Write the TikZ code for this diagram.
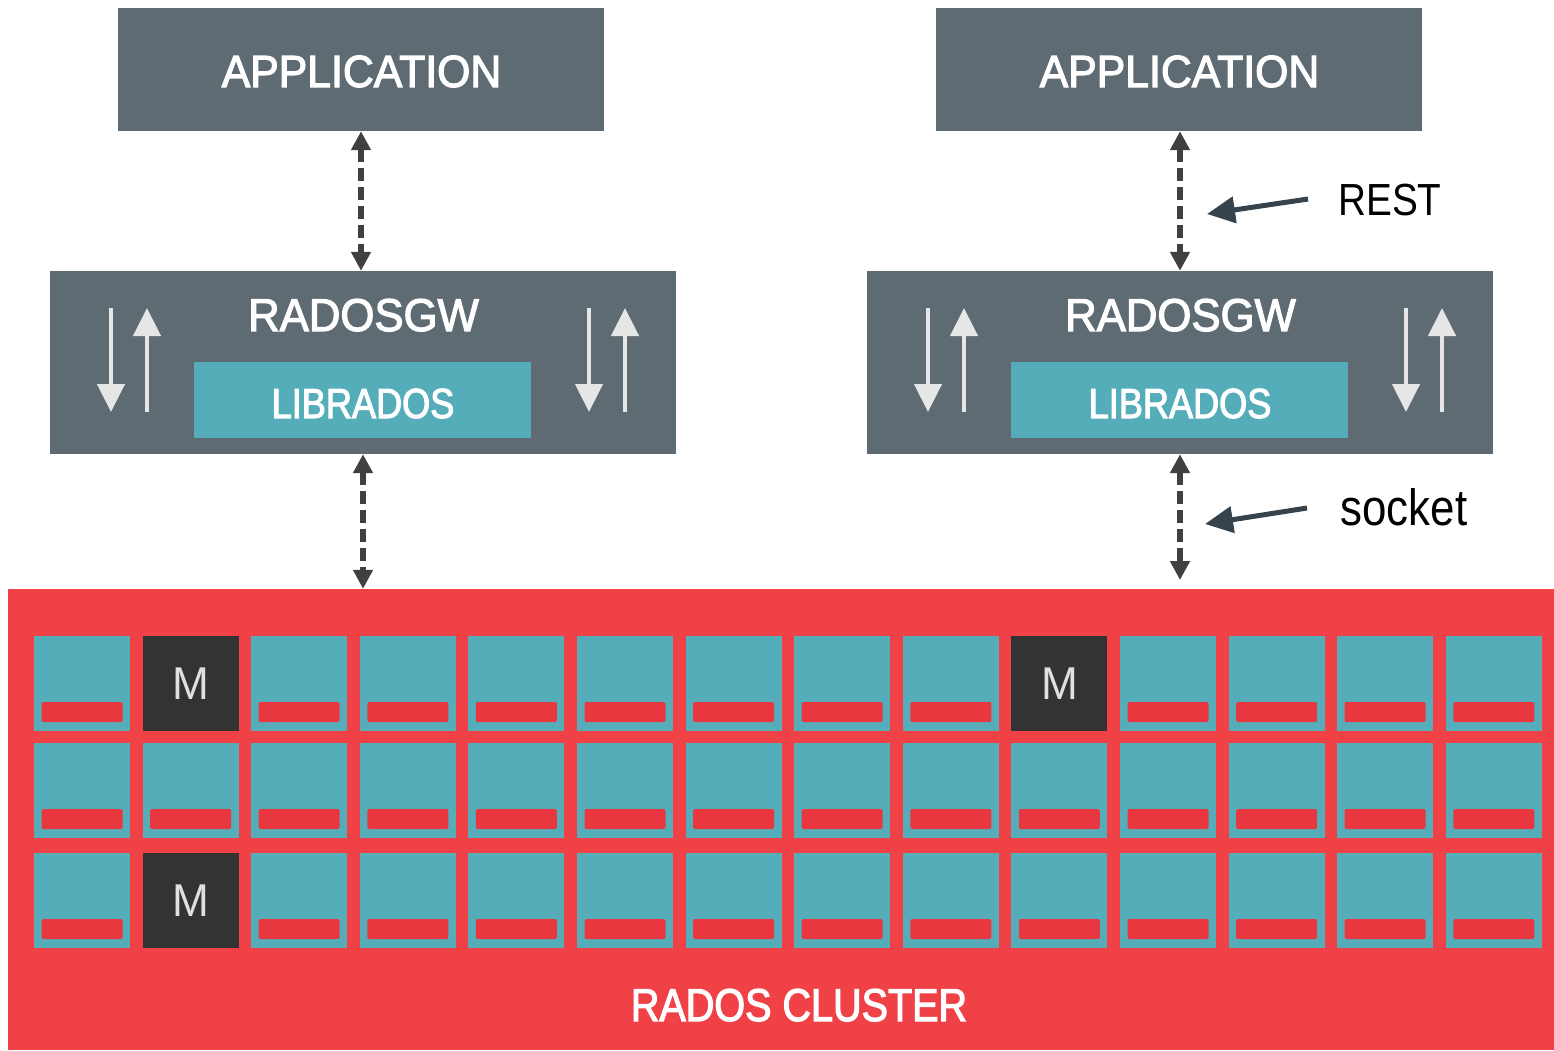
\documentclass[tikz,border=0pt]{standalone}
\usepackage{fontspec}
\setmainfont{Liberation Sans}
\newfontfamily\fntbox[FakeStretch=0.95,FakeBold=2.5]{Liberation Sans}
\newfontfamily\fntboxn[FakeStretch=0.86,FakeBold=2.5]{Liberation Sans}
\newfontfamily\fntcell[FakeStretch=0.96]{Liberation Sans}
\newfontfamily\fntlab[FakeStretch=0.86]{Liberation Sans}
\usetikzlibrary{arrows.meta}
\definecolor{slate}{HTML}{5F6B73}
\definecolor{tealc}{HTML}{55ADB9}
\definecolor{cred}{HTML}{EF4146}
\definecolor{barred}{HTML}{E8373F}
\definecolor{mdark}{HTML}{333333}
\definecolor{conn}{HTML}{404040}
\definecolor{ptr}{HTML}{37434C}
\definecolor{lightc}{HTML}{E6E6E6}
\definecolor{mtext}{HTML}{E0E0E0}
\begin{document}
\begin{tikzpicture}[x=1pt,y=-1pt,
  gbox/.style={fill=slate, draw=none, inner sep=0pt, rectangle},
  libbox/.style={fill=tealc, draw=none, inner sep=0pt, rectangle},
  boxtext/.style={text=white, inner sep=0pt, anchor=base},
  connline/.style={draw=conn, line width=5.5pt, dash pattern=on 13pt off 6pt,
    {Triangle[width=19pt,length=19pt]}-{Triangle[width=19pt,length=19pt]}},
  ptrarrow/.style={draw=ptr, line width=5pt, -{Triangle[width=26pt,length=28pt]}},
  lightarrow/.style={draw=lightc, line width=4.5pt, -{Triangle[width=27pt,length=28pt]}},
  cellbox/.style={fill=tealc, draw=none, inner sep=0pt, minimum width=96pt, minimum height=95pt},
  mcell/.style={fill=mdark, draw=none, inner sep=0pt, minimum width=96pt, minimum height=95pt,
    text=mtext, font=\fntcell\fontsize{46}{46}\selectfont},
  barbox/.style={fill=barred, draw=none, rounded corners=1.5pt}
]
\useasboundingbox (0,0) rectangle (1554,1050);

% application boxes
\node[gbox, minimum width=486pt, minimum height=123pt] (app1) at (361,69.5) {};
\node[gbox, minimum width=486pt, minimum height=123pt] (app2) at (1179,69.5) {};
\node[boxtext, font=\fntbox\fontsize{45}{45}\selectfont] (app1t) at (361.5,87) {APPLICATION};
\node[boxtext, font=\fntbox\fontsize{45}{45}\selectfont] (app2t) at (1179.5,87) {APPLICATION};

% radosgw boxes
\node[gbox, minimum width=626pt, minimum height=183pt] (gw1) at (363,362.5) {};
\node[gbox, minimum width=626pt, minimum height=183pt] (gw2) at (1180,362.5) {};
\node[boxtext, font=\fntbox\fontsize{46}{46}\selectfont] (gw1t) at (363.5,331) {RADOSGW};
\node[boxtext, font=\fntbox\fontsize{46}{46}\selectfont] (gw2t) at (1180.5,331) {RADOSGW};

% librados boxes
\node[libbox, minimum width=337pt, minimum height=76pt] (lib1) at (362.5,400) {};
\node[libbox, minimum width=337pt, minimum height=76pt] (lib2) at (1179.5,400) {};
\node[boxtext, font=\fntboxn\fontsize{42}{42}\selectfont] (lib1t) at (363,418) {LIBRADOS};
\node[boxtext, font=\fntboxn\fontsize{42}{42}\selectfont] (lib2t) at (1180,418) {LIBRADOS};

% light arrows inside radosgw boxes
\foreach \ox/\nm in {0/a,817/b}{
  \coordinate (d1top\nm) at (111+\ox,308);
  \coordinate (d1bot\nm) at (111+\ox,412);
  \coordinate (u1top\nm) at (147+\ox,308);
  \coordinate (u1bot\nm) at (147+\ox,412);
  \coordinate (d2top\nm) at (589+\ox,308);
  \coordinate (d2bot\nm) at (589+\ox,412);
  \coordinate (u2top\nm) at (625+\ox,308);
  \coordinate (u2bot\nm) at (625+\ox,412);
  \draw[lightarrow] (d1top\nm) -- (d1bot\nm);
  \draw[lightarrow] (u1bot\nm) -- (u1top\nm);
  \draw[lightarrow] (d2top\nm) -- (d2bot\nm);
  \draw[lightarrow] (u2bot\nm) -- (u2top\nm);
}

% cluster
\node[fill=cred, draw=none, inner sep=0pt, minimum width=1546pt, minimum height=461pt] (cluster) at (781,819.5) {};
\node[boxtext, font=\fntboxn\fontsize{46}{46}\selectfont] (clustert) at (799,1021) {RADOS CLUSTER};

\foreach \r/\yy in {0/636,1/743,2/853}{
  \foreach \c in {0,...,13}{
    \pgfmathsetmacro\xx{34+108.6*\c}
    \pgfmathtruncatemacro\ism{((\c==1) && (\r!=1)) || ((\c==9) && (\r==0))}
    \ifnum\ism=1
      \node[mcell] (cell-\c-\r) at (\xx+48,\yy+47.5) {\raisebox{-4pt}{M}};
    \else
      \node[cellbox] (cell-\c-\r) at (\xx+48,\yy+47.5) {};
      \fill[barred, rounded corners=1.5pt] (\xx+7.5,\yy+66) rectangle (\xx+88.5,\yy+86);
    \fi
  }
}

% dashed connectors
\coordinate (sockend) at (1180,580);
\draw[connline] (app1.south) -- (app1.south |- gw1.north);
\draw[connline] (app2.south -| gw2.north) -- (gw2.north);
\draw[connline] (gw1.south) -- (gw1.south |- cluster.north);
\draw[connline] (gw2.south) -- (sockend);

% labels and pointers
\node[anchor=base, inner sep=0pt, font=\fntlab\fontsize{45}{45}\selectfont] (rest) at (1390,215) {REST};
\node[anchor=base, inner sep=0pt, font=\fntlab\fontsize{51}{51}\selectfont] (socket) at (1404,525) {socket};
\coordinate (restTail) at (1308,199);
\coordinate (restTip) at (1207,214);
\coordinate (sockTail) at (1307,508);
\coordinate (sockTip) at (1205,524);
\draw[ptrarrow] (restTail) -- (restTip);
\draw[ptrarrow] (sockTail) -- (sockTip);
\end{tikzpicture}
\end{document}
